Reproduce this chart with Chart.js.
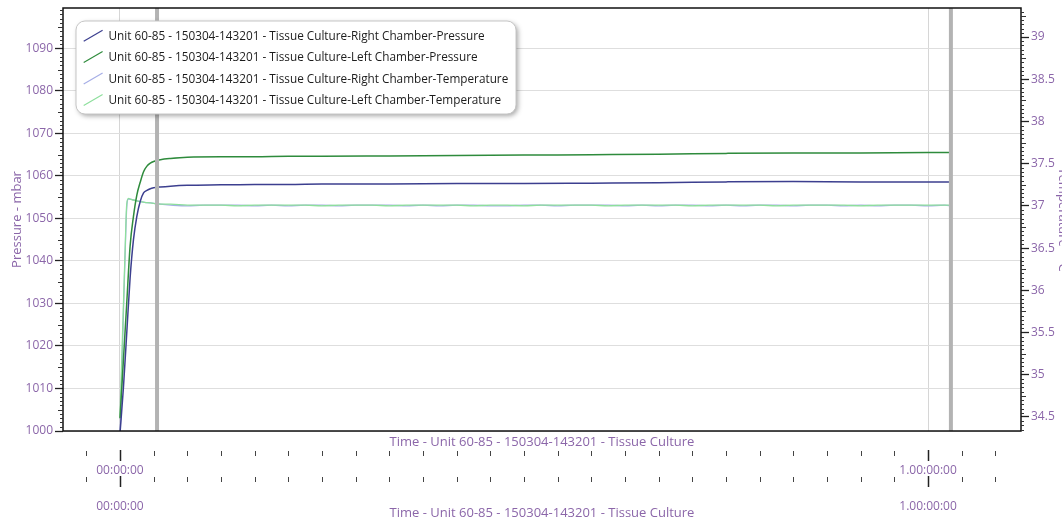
<!DOCTYPE html>
<html>
<head>
<meta charset="utf-8">
<style>
  html, body { margin: 0; padding: 0; overflow: hidden; background: #ffffff; }
  canvas { display: block; }
</style>
<script src="https://cdn.jsdelivr.net/npm/chart.js@4.4.1/dist/chart.umd.min.js"></script>
</head>
<body>
<canvas id="chart" width="1072" height="521"></canvas>
<script>
// ---------------- data ----------------
const seriesNames = [
  'Unit 60-85 - 150304-143201 - Tissue Culture-Right Chamber-Pressure',
  'Unit 60-85 - 150304-143201 - Tissue Culture-Left Chamber-Pressure',
  'Unit 60-85 - 150304-143201 - Tissue Culture-Right Chamber-Temperature',
  'Unit 60-85 - 150304-143201 - Tissue Culture-Left Chamber-Temperature'
];

// time in hours since 00:00:00
const pressureTimes = [0, 0.1, 0.2, 0.3, 0.4, 0.5, 0.6, 0.7, 0.8, 0.9, 1.0, 1.2, 1.5, 2, 3, 4, 5, 6, 8, 10, 12, 14, 16, 18, 20, 22, 24, 24.68];
const rightPressure = [999.5, 1010, 1023, 1036, 1045, 1050.5, 1054, 1056, 1056.6, 1057.0, 1057.2, 1057.4, 1057.6, 1057.8, 1057.9, 1058.0, 1058.0, 1058.1, 1058.1, 1058.2, 1058.2, 1058.3, 1058.4, 1058.6, 1058.7, 1058.6, 1058.6, 1058.6];
const leftPressure  = [1003, 1016.5, 1030, 1043.5, 1050.5, 1055.5, 1058.5, 1061, 1062.3, 1063.0, 1063.4, 1063.8, 1064.1, 1064.4, 1064.5, 1064.5, 1064.6, 1064.6, 1064.7, 1064.8, 1064.9, 1065.0, 1065.1, 1065.3, 1065.4, 1065.4, 1065.5, 1065.5];

const tempTimes = [0, 0.05, 0.1, 0.15, 0.2, 0.25, 0.3, 0.4, 0.5, 0.6, 0.8, 1.0, 1.2,
  1.5, 2, 2.5, 3, 3.5, 4, 4.5, 5, 5.5, 6, 6.5, 7, 7.5, 8, 8.5, 9, 9.5, 10, 10.5, 11, 11.5, 12,
  12.5, 13, 13.5, 14, 14.5, 15, 15.5, 16, 16.5, 17, 17.5, 18, 18.5, 19, 19.5, 20, 20.5, 21,
  21.5, 22, 22.5, 23, 23.5, 24, 24.5, 24.68];
const rightTemp = [34.25, 34.95, 35.70, 36.40, 36.98, 37.08, 37.08, 37.07, 37.06, 37.05, 37.04, 37.03, 37.02,
  37.01, 37.00, 37.01, 37.01, 37.01, 37.00, 37.01, 37.00, 37.01, 37.01,
  37.00, 37.01, 37.01, 37.01, 37.00, 37.01, 37.00, 37.01, 37.01, 37.00,
  37.00, 37.01, 37.01, 37.00, 37.01, 37.01, 37.01, 37.00, 37.01, 37.00,
  37.01, 37.01, 37.00, 37.01, 37.00, 37.01, 37.01, 37.00, 37.01, 37.01,
  37.00, 37.01, 37.00, 37.01, 37.01, 37.00, 37.01, 37.00];
const leftTemp = [34.50, 35.15, 35.80, 36.45, 37.02, 37.09, 37.08, 37.07, 37.06, 37.05, 37.04, 37.03, 37.02,
  37.02, 37.01, 37.01, 37.01, 37.00, 37.01, 37.01, 37.01, 37.01, 37.00,
  37.01, 37.01, 37.01, 37.00, 37.01, 37.01, 37.01, 37.01, 37.00, 37.01,
  37.01, 37.00, 37.01, 37.01, 37.01, 37.01, 37.00, 37.01, 37.01, 37.01,
  37.01, 37.00, 37.01, 37.01, 37.01, 37.01, 37.00, 37.01, 37.01, 37.01,
  37.01, 37.00, 37.01, 37.01, 37.01, 37.01, 37.01, 37.01];

// axes
const pressureRange = [1000, 1099.5];
const tempRange = [34.334, 39.344];
const timeRange = [-1.693, 26.762];
const pressureTicks = [1000, 1010, 1020, 1030, 1040, 1050, 1060, 1070, 1080, 1090];
const tempTicks = [34.5, 35, 35.5, 36, 36.5, 37, 37.5, 38, 38.5, 39];
const timeTickHours = [-1, 0, 1, 2, 3, 4, 5, 6, 7, 8, 9, 10, 11, 12, 13, 14, 15, 16, 17, 18, 19, 20, 21, 22, 23, 24, 25, 26];
const timeLabelHours = [0, 24];
const timeTickLabels = ['00:00:00', '1.00:00:00'];
const cursorHours = [1.1, 24.68];

const pressureTitle = 'Pressure - mbar';
const tempTitle = 'Temperature - °C';
const timeTitle = 'Time - Unit 60-85 - 150304-143201 - Tissue Culture';

// ---------------- styles ----------------
const FONT = "'Open Sans', 'Noto Sans', 'DejaVu Sans', sans-serif";
const PURPLE = '#8b66a9';
const COLORS = ['#3c3f8f', '#2e8b3c', '#a6aee6', '#8ddf9c'];

Chart.defaults.font.family = FONT;
Chart.defaults.font.size = 12;

const toPoints = (xs, ys) => xs.map((x, i) => ({ x: x, y: ys[i] }));

// ---------------- plugins ----------------
function seg(ctx, x1, y1, x2, y2) {
  ctx.beginPath(); ctx.moveTo(x1, y1); ctx.lineTo(x2, y2); ctx.stroke();
}

const overlayPlugin = {
  id: 'overlay',
  afterDatasetsDraw(chart) {
    const { ctx, chartArea: ca, scales } = chart;
    ctx.save();
    // cursor lines
    ctx.strokeStyle = '#b3b3b3';
    ctx.lineWidth = 4;
    cursorHours.forEach(h => {
      const px = scales.x1.getPixelForValue(h);
      seg(ctx, px, ca.top, px, ca.bottom);
    });
    // frame
    ctx.strokeStyle = '#111111';
    ctx.lineWidth = 1.5;
    ctx.strokeRect(ca.left, ca.top, ca.right - ca.left, ca.bottom - ca.top);

    // minor ticks, left axis (every 1 mbar)
    ctx.strokeStyle = '#333333';
    ctx.lineWidth = 1;
    const yP = scales.yP;
    for (let v = Math.ceil(yP.min); v <= yP.max; v++) {
      if (v % 10 === 0) continue;
      const py = Math.round(yP.getPixelForValue(v)) + 0.5;
      const len = (v % 5 === 0) ? 5 : 3;
      seg(ctx, ca.left, py, ca.left - len, py);
    }
    // minor ticks, right axis (every 0.05)
    const yT = scales.yT;
    for (let n = Math.ceil(yT.min / 0.05); n * 0.05 <= yT.max; n++) {
      if (n % 10 === 0) continue;
      const py = Math.round(yT.getPixelForValue(n * 0.05)) + 0.5;
      const len = (n % 5 === 0) ? 5 : 3;
      seg(ctx, ca.right, py, ca.right + len, py);
    }
    // bottom tick rows
    ['x1', 'x2'].forEach(id => {
      const sc = scales[id];
      sc.ticks.forEach(t => {
        const px = Math.round(sc.getPixelForValue(t.value)) + 0.5;
        if (timeLabelHours.includes(t.value)) {
          ctx.strokeStyle = '#222222'; ctx.lineWidth = 1.5;
          seg(ctx, px, sc.top, px, sc.top + 11);
        } else {
          ctx.strokeStyle = '#444444'; ctx.lineWidth = 1;
          seg(ctx, px, sc.top + 1, px, sc.top + 6);
        }
      });
    });
    ctx.restore();
  }
};

const legendPlugin = {
  id: 'boxLegend',
  afterDraw(chart) {
    const { ctx, chartArea: ca } = chart;
    const x = ca.left + 13, y = ca.top + 13, w = 440, h = 93;
    ctx.save();
    ctx.shadowColor = 'rgba(0,0,0,0.35)';
    ctx.shadowBlur = 5;
    ctx.shadowOffsetX = 2;
    ctx.shadowOffsetY = 2;
    ctx.beginPath();
    ctx.roundRect(x, y, w, h, 9);
    ctx.fillStyle = '#ffffff';
    ctx.fill();
    ctx.shadowColor = 'rgba(0,0,0,0)';
    ctx.strokeStyle = '#c6c6c6';
    ctx.lineWidth = 1;
    ctx.stroke();

    const labels = chart.data.datasets.map(d => d.label);
    ctx.font = '12px ' + FONT;
    const widest = Math.max(...labels.map(l => ctx.measureText(l).width));
    const size = Math.max(10, Math.min(13, 12 * 400 / widest));
    ctx.font = size.toFixed(2) + 'px ' + FONT;
    ctx.textBaseline = 'middle';
    ctx.textAlign = 'left';
    chart.data.datasets.forEach((ds, i) => {
      const cy = y + 15.2 + i * 21.4;
      ctx.strokeStyle = ds.borderColor;
      ctx.lineWidth = 1.2;
      seg(ctx, x + 7.7, cy + 5, x + 26.6, cy - 6);
      ctx.fillStyle = '#1c1c1c';
      ctx.fillText(ds.label, x + 32.5, cy + 0.5);
    });
    ctx.restore();
  }
};

// ---------------- chart ----------------
const titleFont = { size: 13, lineHeight: 1.2 };
const tickFont = { size: 12, lineHeight: 1 };

new Chart(document.getElementById('chart'), {
  type: 'line',
  data: {
    datasets: [
      { label: seriesNames[0], data: toPoints(pressureTimes, rightPressure), borderColor: COLORS[0], borderWidth: 1.5, yAxisID: 'yP', xAxisID: 'x1', order: 0 },
      { label: seriesNames[1], data: toPoints(pressureTimes, leftPressure), borderColor: COLORS[1], borderWidth: 1.5, yAxisID: 'yP', xAxisID: 'x1', order: 1 },
      { label: seriesNames[2], data: toPoints(tempTimes, rightTemp), borderColor: COLORS[2], borderWidth: 1.3, yAxisID: 'yT', xAxisID: 'x1', order: 3 },
      { label: seriesNames[3], data: toPoints(tempTimes, leftTemp), borderColor: COLORS[3], borderWidth: 1.3, yAxisID: 'yT', xAxisID: 'x1', order: 2 }
    ]
  },
  options: {
    responsive: false,
    devicePixelRatio: 1,
    animation: false,
    events: [],
    elements: {
      point: { radius: 0 },
      line: { cubicInterpolationMode: 'monotone', fill: false }
    },
    layout: { padding: { top: 8, left: 0, right: 0, bottom: 0 } },
    plugins: { legend: { display: false }, tooltip: { enabled: false } },
    scales: {
      xT: {
        type: 'linear', position: 'bottom', weight: 0,
        min: timeRange[0], max: timeRange[1], bounds: 'data',
        afterFit: s => { s.height = 19; },
        ticks: { display: false },
        grid: { display: false },
        border: { display: false },
        title: { display: true, text: timeTitle, color: PURPLE, font: titleFont, padding: { top: 0, bottom: 0 } }
      },
      x1: {
        type: 'linear', position: 'bottom', weight: 1,
        min: timeRange[0], max: timeRange[1], bounds: 'data',
        afterBuildTicks: s => { s.ticks = timeTickHours.map(v => ({ value: v })); },
        afterFit: s => { s.height = 26; },
        ticks: {
          autoSkip: false, maxRotation: 0, minRotation: 0, padding: 13, color: PURPLE,
          font: { size: 12, lineHeight: 1.2 },
          callback: v => { const i = timeLabelHours.indexOf(v); return i >= 0 ? timeTickLabels[i] : ''; }
        },
        grid: {
          drawTicks: false, lineWidth: 1,
          color: c => (c.tick && timeLabelHours.includes(c.tick.value)) ? '#d6d6d6' : 'rgba(0,0,0,0)'
        },
        border: { display: false }
      },
      x2: {
        type: 'linear', position: 'bottom', weight: 2,
        min: timeRange[0], max: timeRange[1], bounds: 'data',
        afterBuildTicks: s => { s.ticks = timeTickHours.map(v => ({ value: v })); },
        afterFit: s => { s.height = 45; },
        ticks: {
          autoSkip: false, maxRotation: 0, minRotation: 0, padding: 15, color: PURPLE,
          font: { size: 12, lineHeight: 1.2 },
          callback: v => { const i = timeLabelHours.indexOf(v); return i >= 0 ? timeTickLabels[i] : ''; }
        },
        grid: { display: false },
        border: { display: false },
        title: { display: true, text: timeTitle, color: PURPLE, font: titleFont, padding: { top: 0, bottom: 0 } }
      },
      yP: {
        type: 'linear', position: 'left',
        min: pressureRange[0], max: pressureRange[1], bounds: 'data',
        afterBuildTicks: s => { s.ticks = pressureTicks.map(v => ({ value: v })); },
        afterFit: s => { s.width = 63; },
        ticks: { padding: 2, color: PURPLE, font: tickFont, callback: v => String(v) },
        grid: { color: '#dedede', lineWidth: 1, tickColor: '#222222', tickLength: 8, tickWidth: 1.3 },
        border: { display: false },
        title: { display: true, text: pressureTitle, color: PURPLE, font: titleFont, padding: { top: 9, bottom: 0 } }
      },
      yT: {
        type: 'linear', position: 'right',
        min: tempRange[0], max: tempRange[1], bounds: 'data',
        afterBuildTicks: s => { s.ticks = tempTicks.map(v => ({ value: v })); },
        afterFit: s => { s.width = 51; },
        ticks: { padding: 2, color: PURPLE, font: tickFont, callback: v => String(v) },
        grid: { drawOnChartArea: false, tickColor: '#222222', tickLength: 8, tickWidth: 1.3 },
        border: { display: false },
        title: { display: true, text: tempTitle, color: PURPLE, font: titleFont, padding: { top: 1, bottom: 0 } }
      }
    }
  },
  plugins: [overlayPlugin, legendPlugin]
});
</script>
</body>
</html>
